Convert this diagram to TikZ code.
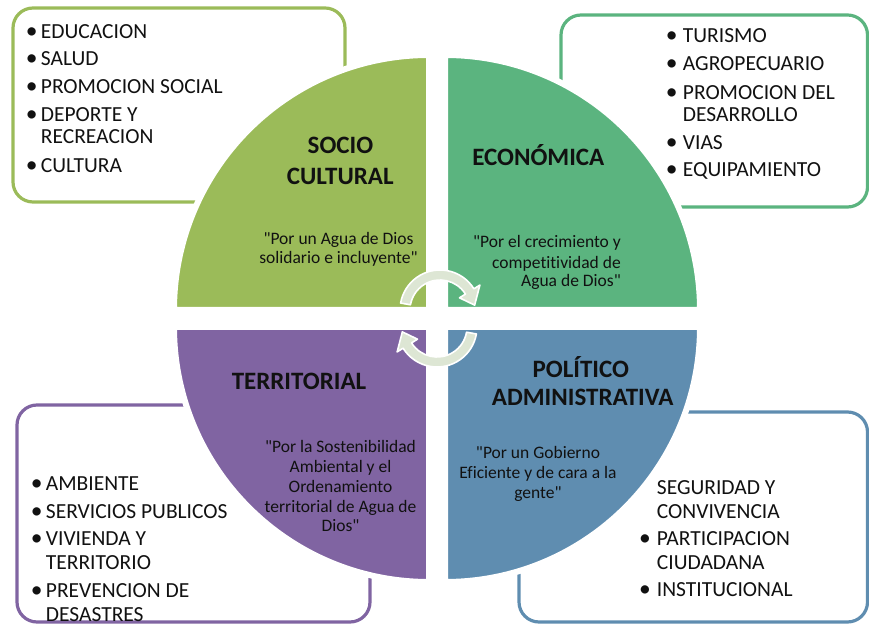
\documentclass[tikz,border=0pt]{standalone}
\usepackage{fontspec}
\setmainfont{Carlito}[Ligatures={TeXOff,NoCommon}]
\usetikzlibrary{calc}
\definecolor{cSoc}{HTML}{9BBB59}
\definecolor{cEco}{HTML}{5BB47F}
\definecolor{cTer}{HTML}{8064A2}
\definecolor{cPol}{HTML}{5F8DB0}
\definecolor{cArr}{HTML}{DDE6D4}
\definecolor{cTxt}{HTML}{111111}
\begin{document}
\begin{tikzpicture}[x=1pt,y=1pt,
 boxline/.style={line width=3.2pt, rounded corners=20pt},
 quad/.style={draw=white, line width=6pt},
 item/.style={anchor=base west, inner sep=0pt, text=cTxt, font=\fontsize{21.5}{24}\selectfont},
 bul/.style={anchor=base, inner sep=0pt, text=cTxt, font=\fontsize{23.5}{24}\selectfont},
 ttl/.style={anchor=base, inner sep=0pt, text=cTxt, font=\fontsize{25}{28}\selectfont\bfseries},
 quo/.style={anchor=base, inner sep=0pt, text=cTxt, font=\fontsize{17.5}{20}\selectfont},
 quor/.style={quo, anchor=base east},
 arr/.style={fill=cArr, draw=white, line width=1.6pt, line join=round}]
\useasboundingbox (0,0) rectangle (869,626);

% outer boxes
\draw[boxline, draw=cSoc] (13,424) rectangle (345,618);
\draw[boxline, draw=cEco] (561,419) rectangle (867.5,611);
\draw[boxline, draw=cTer] (17,4) rectangle (370,221);
\draw[boxline, draw=cPol] (519,4) rectangle (867.5,214);

% quadrants
\path[quad, fill=cSoc] (429,316) -- (174,316) arc[start angle=180, end angle=90, radius=255] -- cycle;
\path[quad, fill=cEco] (445,316) -- (700,316) arc[start angle=0, end angle=90, radius=255] -- cycle;
\path[quad, fill=cTer] (429,299) -- (174,299) arc[start angle=180, end angle=270, radius=255] -- cycle;
\path[quad, fill=cPol] (445,299) -- (700,299) arc[start angle=0, end angle=-90, radius=255] -- cycle;

% circular arrows
\coordinate (ca) at (440,316);
\coordinate (cb) at (437,299);
\path[arr] ($(ca)+(170:40)$) arc[start angle=170, end angle=32, radius=40]
  -- ($(ca)+(32:47)$) -- ($(ca)+(8:35)$) -- ($(ca)+(32:23)$)
  -- ($(ca)+(32:30)$) arc[start angle=32, end angle=170, radius=30] -- cycle;
\path[arr] ($(cb)+(-10:40)$) arc[start angle=-10, end angle=-148, radius=40]
  -- ($(cb)+(-148:47)$) -- ($(cb)+(-172:35)$) -- ($(cb)+(-148:23)$)
  -- ($(cb)+(-148:30)$) arc[start angle=-148, end angle=-10, radius=30] -- cycle;

% titles
\node[ttl] (t1a) at (340.5,472.7) {SOCIO};
\node[ttl] (t1b) at (340.3,441) {CULTURAL};
\node[ttl] (t2) at (538.3,460.3) {ECONÓMICA};
\node[ttl] (t3) at (299,236) {TERRITORIAL};
\node[ttl] (t4a) at (580.8,248.7) {POLÍTICO};
\node[ttl] (t4b) at (582.7,220.3) {ADMINISTRATIVA};

% quotes
\node[quo] (q1a) at (338.5,381) {"Por un Agua de Dios};
\node[quo] (q1b) at (338.5,362.7) {solidario e incluyente"};
\node[quor] (q2a) at (621,378.3) {"Por el crecimiento y};
\node[quor] (q2b) at (621,357.7) {competitividad de};
\node[quor] (q2c) at (621,339.3) {Agua de Dios"};
\node[quo] (q3a) at (340.5,173.3) {"Por la Sostenibilidad};
\node[quo] (q3b) at (340.5,153.3) {Ambiental y el};
\node[quo] (q3c) at (340.5,133.3) {Ordenamiento};
\node[quo] (q3d) at (340.5,113.3) {territorial de Agua de};
\node[quo] (q3e) at (340.5,94.3) {Dios"};
\node[quo] (q4a) at (538,167.7) {"Por un Gobierno};
\node[quo] (q4b) at (538,147.7) {Eficiente y de cara a la};
\node[quo] (q4c) at (538,127.7) {gente"};

% top-left list
\node[bul] (b11) at (31.7,587.7) {•};
\node[item] (i11) at (40.7,587.7) {EDUCACION};
\node[bul] (b12) at (31.7,560) {•};
\node[item] (i12) at (40.7,560) {SALUD};
\node[bul] (b13) at (31.7,532.7) {•};
\node[item] (i13) at (40.7,532.7) {PROMOCION SOCIAL};
\node[bul] (b14) at (31.7,504.3) {•};
\node[item] (i14) at (40.7,504.3) {DEPORTE Y};
\node[item] (i14b) at (40.7,482) {RECREACION};
\node[bul] (b15) at (31.7,453.3) {•};
\node[item] (i15) at (40.7,453.3) {CULTURA};

% top-right list
\node[bul] (b21) at (671.7,583.3) {•};
\node[item] (i21) at (682.7,583.3) {TURISMO};
\node[bul] (b22) at (671.7,555) {•};
\node[item] (i22) at (682.7,555) {AGROPECUARIO};
\node[bul] (b23) at (671.7,526.7) {•};
\node[item] (i23) at (682.7,526.7) {PROMOCION DEL};
\node[item] (i23b) at (682.7,504.3) {DESARROLLO};
\node[bul] (b24) at (671.7,476) {•};
\node[item] (i24) at (682.7,476) {VIAS};
\node[bul] (b25) at (671.7,449) {•};
\node[item] (i25) at (682.7,449) {EQUIPAMIENTO};

% bottom-left list
\node[bul] (b31) at (36.7,135.3) {•};
\node[item] (i31) at (45.7,135.3) {AMBIENTE};
\node[bul] (b32) at (36.7,107.7) {•};
\node[item] (i32) at (45.7,107.7) {SERVICIOS PUBLICOS};
\node[bul] (b33) at (36.7,80.3) {•};
\node[item] (i33) at (45.7,80.3) {VIVIENDA Y};
\node[item] (i33b) at (45.7,56.7) {TERRITORIO};
\node[bul] (b34) at (36.7,28.7) {•};
\node[item] (i34) at (45.7,28.7) {PREVENCION DE};
\node[item] (i34b) at (45.7,4.6) {DESASTRES};

% bottom-right list
\node[item] (i41) at (656.7,131) {SEGURIDAD Y};
\node[item] (i41b) at (656.7,107.7) {CONVIVENCIA};
\node[bul] (b42) at (645,80.3) {•};
\node[item] (i42) at (656.7,80.3) {PARTICIPACION};
\node[item] (i42b) at (656.7,57) {CIUDADANA};
\node[bul] (b43) at (645,29.3) {•};
\node[item] (i43) at (656.7,29.3) {INSTITUCIONAL};
\end{tikzpicture}
\end{document}
